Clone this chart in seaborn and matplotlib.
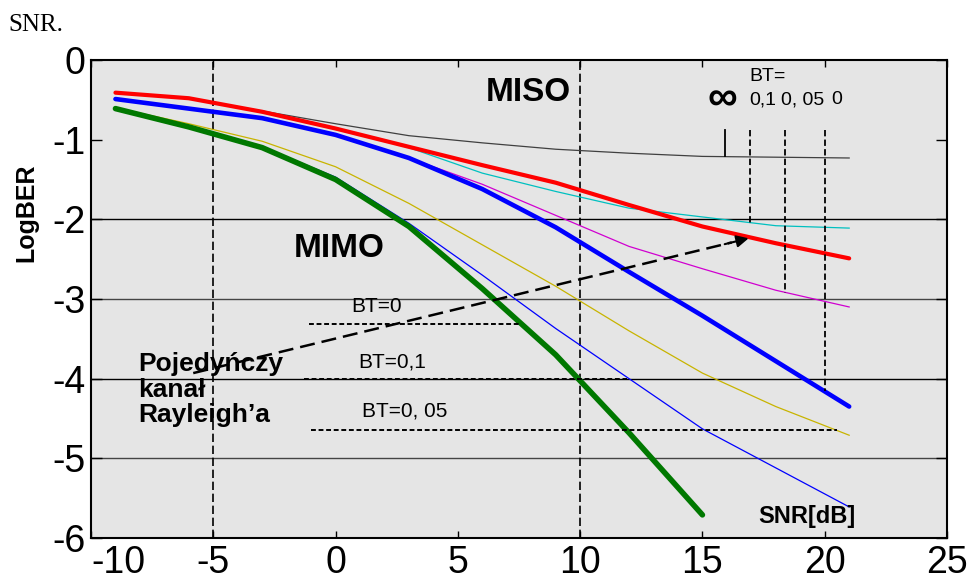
import matplotlib
matplotlib.use("Agg")
import matplotlib.pyplot as plt
import seaborn as sns

# SNR points in dB
snr = [-9, -6, -3, 0, 3, 6, 9, 12, 15, 18, 21]
snr_mimo_thick = [-9, -6, -3, 0, 3, 6, 9, 12, 15]

# log10(BER) curves
rayleigh = [-0.41, -0.48, -0.65, -0.86, -1.09, -1.32, -1.54, -1.82, -2.09, -2.30, -2.49]
miso_inf = [-0.41, -0.48, -0.64, -0.80, -0.95, -1.04, -1.12, -1.17, -1.21, -1.22, -1.23]
miso_01 = [-0.41, -0.48, -0.65, -0.86, -1.10, -1.42, -1.65, -1.86, -1.97, -2.08, -2.11]
miso_005 = [-0.49, -0.61, -0.73, -0.94, -1.23, -1.56, -1.95, -2.34, -2.62, -2.89, -3.10]
miso_0 = [-0.49, -0.61, -0.73, -0.94, -1.23, -1.62, -2.10, -2.66, -3.21, -3.78, -4.35]
mimo_0 = [-0.61, -0.84, -1.10, -1.50, -2.09, -2.87, -3.70, -4.68, -5.71]
mimo_01 = [-0.61, -0.84, -1.09, -1.47, -2.05, -2.70, -3.37, -4.00, -4.63, -5.12, -5.61]
mimo_005 = [-0.60, -0.80, -1.02, -1.34, -1.80, -2.32, -2.84, -3.40, -3.93, -4.35, -4.71]

grid_levels = [-2, -3, -4, -5]
grid_colors = ["black", "#444444", "black", "#444444"]
vlines_snr = [-5, 10]

# BT markers, top right (x, lower end)
bt_marker_x = [15.94, 16.93, 18.36, 20.0]
bt_marker_low = [-1.21, -2.07, -2.93, -4.16]
bt_marker_top = -0.88
bt_top_labels = ["0,1", "0, 05", "0"]
bt_top_label_x = [17.46, 19.1, 20.5]

# BT levels, MIMO (label, label x, label y, line y, line x0, line x1)
bt_low_labels = ["BT=0", "BT=0,1", "BT=0, 05"]
bt_low_label_x = [1.68, 2.3, 2.83]
bt_low_label_y = [-3.1, -3.79, -4.41]
bt_low_line_y = [-3.32, -4.0, -4.65]
bt_low_line_x0 = [-1.1, -1.3, -1.0]
bt_low_line_x1 = [7.5, 11.9, 20.5]

x_ticks = [-10, -5, 0, 5, 10, 15, 20, 25]
y_ticks = [0, -1, -2, -3, -4, -5, -6]

plt.rcParams["font.family"] = ["Liberation Sans", "DejaVu Sans"]

fig = plt.figure(figsize=(9.77, 5.80), dpi=100)
ax = fig.add_axes([91 / 977, 42 / 580, 856 / 977, 478 / 580])
ax.set_facecolor("#e5e5e5")

for lvl, c in zip(grid_levels, grid_colors):
    ax.axhline(lvl, color=c, lw=1.0, zorder=1)
for v in vlines_snr:
    ax.axvline(v, color="black", lw=1.2, ls=(0, (5, 2.2)), zorder=1)

thin = [
    (snr, miso_inf, "#404040"),
    (snr, miso_01, "#00c0c0"),
    (snr, miso_005, "#d000d0"),
    (snr, mimo_005, "#c8b400"),
    (snr, mimo_01, "#0000ff"),
]
for xs, ys, c in thin:
    sns.lineplot(x=xs, y=ys, color=c, lw=0.9, ax=ax, zorder=2)

thick = [
    (snr, miso_0, "#0000ff", 3.3),
    (snr, rayleigh, "#ff0000", 3.0),
    (snr_mimo_thick, mimo_0, "#007800", 4.0),
]
for xs, ys, c, w in thick:
    sns.lineplot(x=xs, y=ys, color=c, lw=w, ax=ax, zorder=3,
                 solid_capstyle="round")

# BT markers top right
for i, (mx, low) in enumerate(zip(bt_marker_x, bt_marker_low)):
    ls = "-" if i == 0 else (0, (3.5, 1.8))
    ax.plot([mx, mx], [bt_marker_top, low], color="black", lw=1.3, ls=ls, zorder=4)
ax.text(17.66, -0.21, "BT=", fontsize=14, ha="center", va="center")
ax.text(15.8, -0.49, "∞", fontsize=30, fontweight="bold", ha="center", va="center")
for lab, lx in zip(bt_top_labels, bt_top_label_x):
    ax.text(lx, -0.5, lab, fontsize=14, ha="center", va="center")

# BT levels for MIMO
for lab, lx, ly, y, x0, x1 in zip(bt_low_labels, bt_low_label_x, bt_low_label_y,
                                  bt_low_line_y, bt_low_line_x0, bt_low_line_x1):
    ax.text(lx, ly, lab, fontsize=15, ha="center", va="center")
    ax.plot([x0, x1], [y, y], color="black", lw=1.4, ls=(0, (2.5, 1.4)), zorder=4)

# arrow towards single Rayleigh channel
ax.plot([-5.82, 16.2], [-3.93, -2.29], color="black", lw=1.8, ls=(0, (6, 2.8)), zorder=4)
ax.annotate("", xy=(17.0, -2.23), xytext=(15.8, -2.32),
            arrowprops=dict(arrowstyle="-|>", color="black", lw=1.5, mutation_scale=18),
            zorder=5)

ax.text(7.87, -0.41, "MISO", fontsize=24, fontweight="bold", ha="center", va="center")
ax.text(0.16, -2.36, "MIMO", fontsize=24, fontweight="bold", ha="center", va="center")
ax.text(-8.07, -3.67, "Pojedyńczy\nkanał\nRayleigh’a", fontsize=19, fontweight="bold",
        ha="left", va="top", linespacing=1.08, zorder=5)
ax.text(19.26, -5.73, "SNR[dB]", fontsize=17, fontweight="bold", ha="center", va="center")

ax.set_xlim(-10, 25)
ax.set_ylim(-6, 0)
ax.set_xticks(x_ticks)
ax.set_yticks(y_ticks)
ax.set_xticklabels([str(t) for t in x_ticks])
ax.set_yticklabels([str(t) for t in y_ticks])
ax.xaxis.get_ticklabels()[0].set_ha("left")
ax.tick_params(axis="both", labelsize=27, direction="in", top=True, right=True,
               width=1.0, color="black")
ax.tick_params(axis="y", length=8, pad=4)
ax.tick_params(axis="x", length=5, pad=5)
for s in ax.spines.values():
    s.set_color("black")
    s.set_linewidth(1.5)

ax.set_xlabel("")
ax.set_ylabel("LogBER", fontsize=18, fontweight="bold")
ax.yaxis.set_label_coords(-0.061, 0.68)

fig.text(8 / 977, 1 - 31 / 580, "SNR.", fontsize=18, family=["Liberation Serif"],
         ha="left", va="baseline")

fig.savefig("out.png", dpi=100)
